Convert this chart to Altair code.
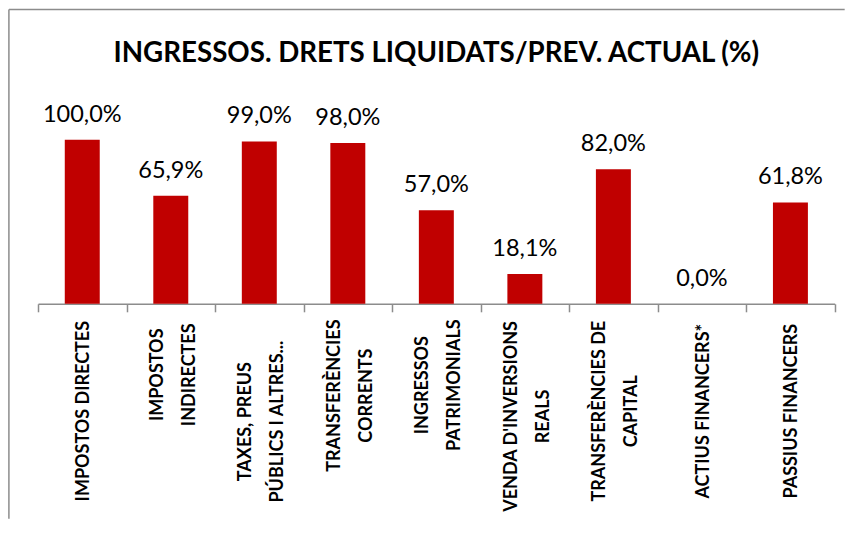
import altair as alt
import pandas as pd

# ---- data ----
categories = [
    "Impostos directes",
    "Impostos|indirectes",
    "Taxes, preus|públics i altres...",
    "Transferències|corrents",
    "Ingressos|patrimonials",
    "Venda d'inversions|reals",
    "Transferències de|capital",
    "Actius financers*",
    "Passius financers",
]
values = [100.0, 65.9, 99.0, 98.0, 57.0, 18.1, 82.0, 0.0, 61.8]
title_text = "Ingressos. Drets liquidats/Prev. Actual (%)"

df = pd.DataFrame({
    "cat": categories,
    "value": values,
    "label": [f"{v:.1f}".replace(".", ",") + "%" for v in values],
})

W = 796.7
H = 196.8
GREY = "#8c8c8c"
CHAR_W = 10.4  # approx. width of one capital letter of the axis labels

x_enc = alt.X(
    "cat:N",
    sort=None,
    scale=alt.Scale(paddingInner=0, paddingOuter=0),
    axis=alt.Axis(
        title=None,
        labels=False,
        tickBand="extent",
        tickSize=8,
        tickWidth=1.5,
        tickColor=GREY,
        domainColor=GREY,
        domainWidth=1.5,
    ),
)
y_enc = alt.Y("value:Q", scale=alt.Scale(domain=[0, 120]), axis=None)

base = alt.Chart(df)

bars = base.mark_bar(color="#C00000", width=alt.RelativeBandSize(0.395)).encode(
    x=x_enc, y=y_enc
)

texts = base.mark_text(
    font="Lato", fontSize=23.5, color="black", baseline="alphabetic", dy=-18
).encode(x=alt.X("cat:N", sort=None), y="value:Q", text="label:N")

# category labels: rotated, lines centred on each other, block starting below the axis
lab = base.transform_calculate(
    idx="indexof(datum.cat, '|')",
    lines="split(upper(datum.cat), '|')",
).transform_calculate(
    nchar="datum.idx < 0 ? length(datum.cat) : max(datum.idx, length(datum.cat) - datum.idx - 1)",
    two="datum.idx < 0 ? 0 : 1",
).transform_calculate(
    py=f"{H} + 19 + datum.nchar * {CHAR_W} / 2"
)

lab_style = dict(
    font="Lato", fontSize=18, fontWeight="bold", color="black",
    angle=270, align="center", baseline="middle", lineHeight=32,
)
labels1 = lab.transform_filter("datum.two == 0").mark_text(dy=2, **lab_style).encode(
    x=alt.X("cat:N", sort=None),
    y=alt.Y("py:Q", scale=None),
    text="lines:N",
)
labels2 = lab.transform_filter("datum.two == 1").mark_text(dy=-13, **lab_style).encode(
    x=alt.X("cat:N", sort=None),
    y=alt.Y("py:Q", scale=None),
    text="lines:N",
)

one = pd.DataFrame({"a": [0]})
left_edge = alt.Chart(one).mark_rule(color=GREY, strokeWidth=1.5).encode(
    x=alt.value(-29.1), y=alt.value(-97.4), y2=alt.value(H + 215)
)
top_edge = alt.Chart(one).mark_rule(color=GREY, strokeWidth=1.5).encode(
    x=alt.value(-29.1), x2=alt.value(W + 10), y=alt.value(-97.4)
)

chart = alt.layer(left_edge, top_edge, bars, texts, labels1, labels2).properties(
    width=W,
    height=H,
    title=alt.TitleParams(
        text=title_text.upper(),
        font="Lato",
        fontSize=27.7,
        fontWeight="bold",
        color="black",
        anchor="middle",
        frame="group",
        offset=-59,
    ),
    padding=0,
).configure_view(stroke=None)

chart.save("out.html", embed_options={"renderer": "svg", "actions": False})
